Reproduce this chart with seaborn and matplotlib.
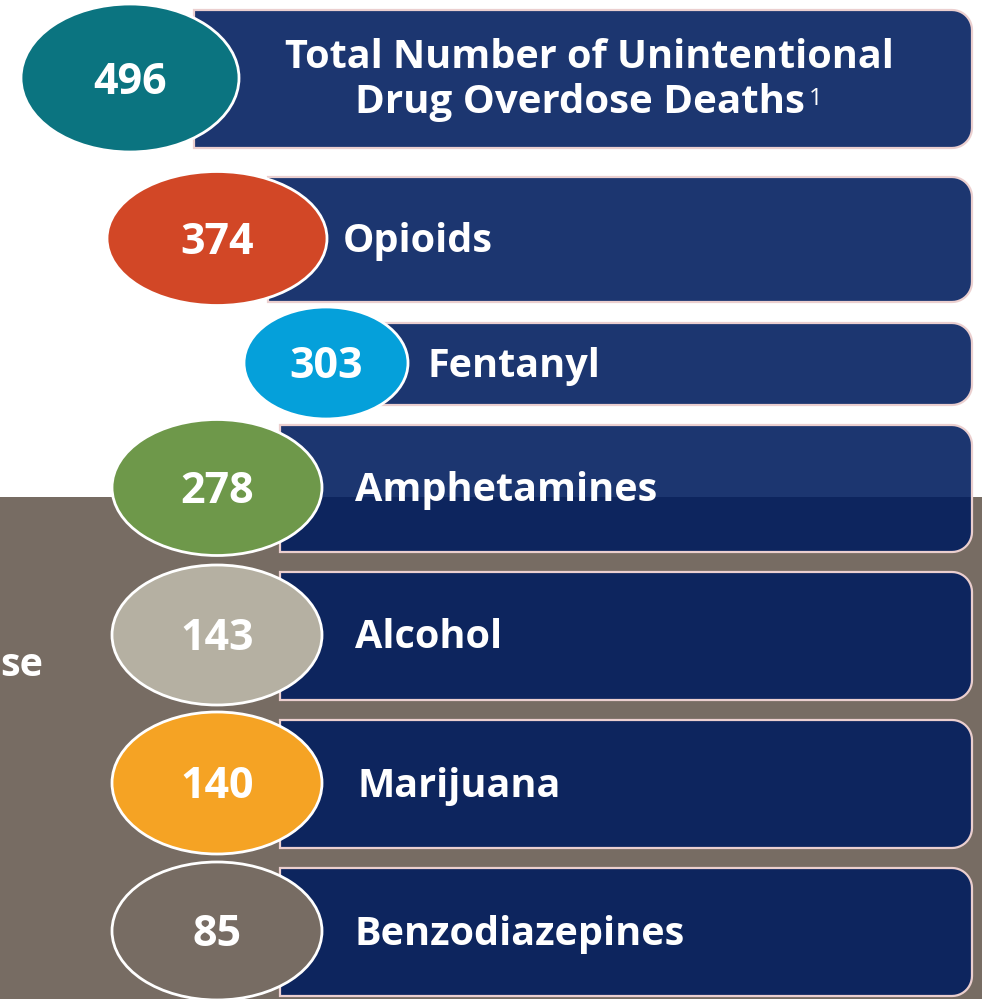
import numpy as np
import matplotlib
matplotlib.use("Agg")
import matplotlib.pyplot as plt
import seaborn as sns
from matplotlib.patches import Ellipse, Rectangle, PathPatch
from matplotlib.path import Path

# data
labels = ['Total Number of Unintentional', 'Opioids', 'Fentanyl',
          'Amphetamines', 'Alcohol', 'Marijuana', 'Benzodiazepines']
title_line2 = 'Drug Overdose Deaths'
counts = [496, 374, 303, 278, 143, 140, 85]
colors = ['#0B7480', '#D24726', '#05A0DA', '#6E984A', '#B5B0A2', '#F5A324', '#776C63']

# layout in pixels: ellipse centre x, ellipse half width, half height, box left, box top, box bottom, label x
layout = [
    (130, 109, 74, 194, 10, 148, None),
    (217, 110, 67, 268, 177, 302, 343),
    (326, 82, 56, 380, 323, 405, 428),
    (217, 105, 68, 280, 425, 552, 355),
    (217, 105, 70, 280, 572, 700, 355),
    (217, 105, 71, 280, 720, 848, 358),
    (217, 105, 69, 280, 868, 996, 355),
]
box_right = 972
W, H = 982, 999

sns.set_theme(style="white")
plt.rcParams['font.family'] = ['Open Sans', 'DejaVu Sans']

fig = plt.figure(figsize=(W / 100, H / 100), dpi=100)
ax = fig.add_axes([0, 0, 1, 1])
ax.set_xlim(0, W)
ax.set_ylim(H, 0)
ax.axis('off')

# brown band behind lower part
ax.add_patch(Rectangle((0, 497), W, H - 497, fc='#776C63', ec='none', zorder=0))
ax.text(43, 666, 'se', color='white', fontsize=28.5, fontweight='bold', ha='right', va='center', zorder=1)


def right_rounded(x0, y0, x1, y1, r):
    verts = [(x0, y0), (x1 - r, y0)]
    for a in np.linspace(-np.pi / 2, 0, 12):
        verts.append((x1 - r + r * np.cos(a), y0 + r + r * np.sin(a)))
    for a in np.linspace(0, np.pi / 2, 12):
        verts.append((x1 - r + r * np.cos(a), y1 - r + r * np.sin(a)))
    verts += [(x0, y1), (x0, y0)]
    codes = [Path.MOVETO] + [Path.LINETO] * (len(verts) - 2) + [Path.CLOSEPOLY]
    return Path(verts, codes)


for (cx, hw, hh, bx, bt, bb, lx), lab, n, c in zip(layout, labels, counts, colors):
    cy = (bt + bb) / 2
    ax.add_patch(PathPatch(right_rounded(bx, bt, box_right, bb, 20), fc=(0, 29 / 255, 94 / 255, 0.89),
                           ec='#EBCFCF', lw=1.6, zorder=2))
    ax.add_patch(Ellipse((cx, cy - 1), 2 * hw, 2 * hh, fc=c, ec='white', lw=2, zorder=3))
    ax.text(cx, cy + 3, str(n), color='white', fontsize=31, fontweight='bold', ha='center', va='center', zorder=4)
    if lx is None:
        ax.text(589, 57, lab, color='white', fontsize=28.5, fontweight='bold', ha='center', va='center', zorder=4)
        t2 = ax.text(355, 102, title_line2, color='white', fontsize=29, fontweight='bold',
                     ha='left', va='center', zorder=4)
        ax.annotate('1', xy=(1, 1), xycoords=t2, xytext=(3, -3), textcoords='offset points',
                    color='white', fontsize=17, ha='left', va='top', zorder=4)
    else:
        ax.text(lx, cy + 2, lab, color='white', fontsize=28.5, fontweight='bold', ha='left', va='center', zorder=4)

fig.savefig('out.png', dpi=100)
